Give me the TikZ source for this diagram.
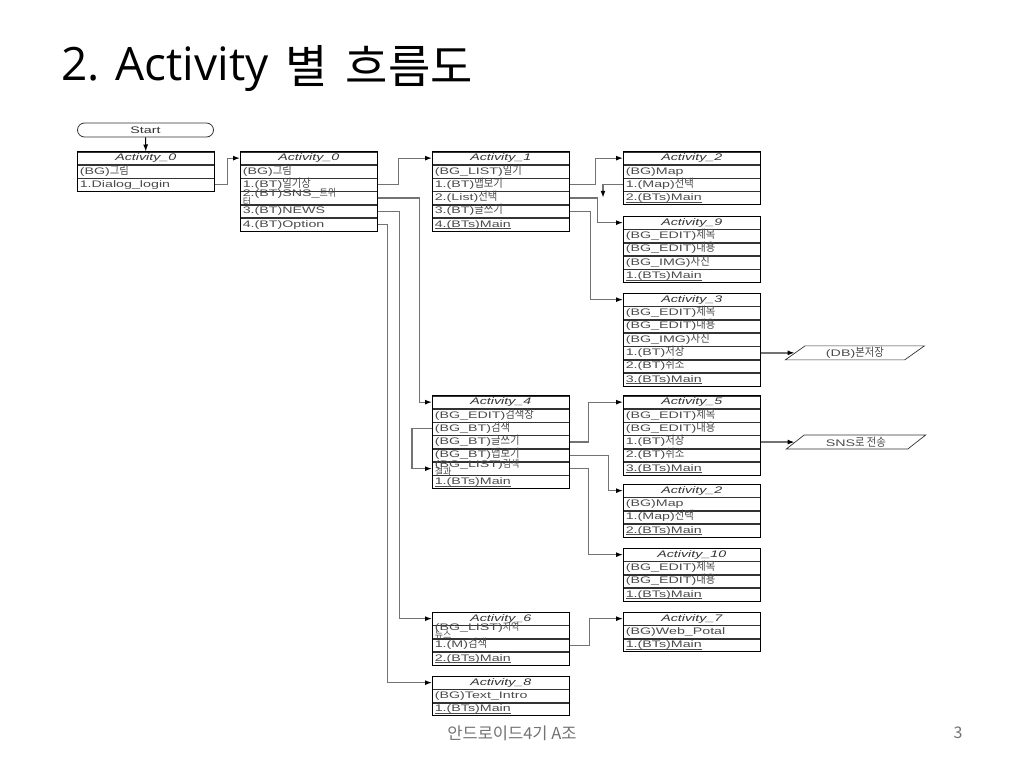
\documentclass[tikz,border=0pt]{standalone}
\usepackage{fontspec}
\usetikzlibrary{arrows.meta,shapes.geometric}
\newfontfamily\lafont[FakeStretch=1.5]{Liberation Sans}
\newfontfamily\kofont[FakeStretch=0.9]{Noto Sans CJK KR}
\newfontfamily\titlefont{Open Sans}
\newfontfamily\tkofont{Noto Sans CJK KR}
\newcommand\rowfont{\lafont\fontsize{9.5}{11}\selectfont}
\newcommand\kor[1]{{\kofont\fontsize{11.5}{12}\selectfont #1}}
\newcommand\korsm[1]{{\kofont\fontsize{10}{11}\selectfont #1}}
\newcommand\mainu[1]{\underline{\smash{#1}}}
\newcommand\twoline[2]{\raisebox{4pt}[0pt][0pt]{\begin{tabular}[t]{@{}l@{}}#1\\[-3pt]#2\end{tabular}}}
\tikzset{
  cell/.style={draw=black!80, line width=0.6pt, anchor=north west, inner ysep=0pt, inner xsep=2.5pt,
    text width=132pt, minimum height=12.7pt, text height=6.8pt, text depth=1.6pt, align=left,
    font=\rowfont, text=black!70},
  hdr/.style={cell, align=center, font=\rowfont\itshape, text=black!80},
  frame/.style={draw=black, line width=0.9pt},
  conn/.style={draw=black!55, line width=1.3pt, -{Latex[length=7pt,width=5pt,color=black]}},
  para/.style={draw=black!80, line width=0.7pt, trapezium, trapezium left angle=45,
    trapezium right angle=135, trapezium stretches=true, minimum width=140pt,
    minimum height=14pt, inner sep=0pt, font=\rowfont, text=black!70, anchor=west},
}
\newcommand\actbox[5]{%
  \node[hdr] (#1-0) at #2 {#3};
  \foreach \rowtext [count=\i, remember=\i as \j (initially 0)] in {#5}{
    \node[cell] (#1-\i) at (#1-\j.south west) {\rowtext};
  }
  \draw[frame] (#1-0.north west) rectangle (#1-#4.south east);
}
\begin{document}
\begin{tikzpicture}[x=1pt,y=-1pt]
\fill[white] (0,0) rectangle (1024,768);
\useasboundingbox (0,0) rectangle (1024,768);

% title and footer
\node[anchor=base west, inner sep=0pt, font=\titlefont\fontsize{46}{50}\selectfont] (title) at (61,80)
  {2. Activity\hspace{17pt}{\tkofont\raisebox{-3pt}{별}\hspace{18pt}\raisebox{-3pt}{흐름도}}};
\node[font=\tkofont\fontsize{16.5}{18}\selectfont, text=black!55] (foot) at (512,733) {안드로이드4기 A조};
\node[font=\tkofont\fontsize{16}{18}\selectfont, text=black!55] (pg) at (958,733) {3};

% start
\node[draw=black!80, line width=0.8pt, rounded corners=7pt, minimum width=136pt, minimum height=14pt,
  inner sep=0pt, font=\rowfont, text=black!80] (start) at (145.5,130) {Start};

% boxes
\actbox{A0a}{(77,151.5)}{Activity\_0}{2}{{(BG)\kor{그림}},{1.Dialog\_login}}
\actbox{A0b}{(240,151.5)}{Activity\_0}{5}{{(BG)\kor{그림}},{1.(BT)\kor{일기장}},{\twoline{2.(BT)SNS\_\korsm{트위}}{\korsm{터}}},{3.(BT)NEWS},{4.(BT)Option}}
\actbox{A1}{(432,151.5)}{Activity\_1}{5}{{(BG\_LIST)\kor{일기}},{1.(BT)\kor{맵보기}},{2.(List)\kor{선택}},{3.(BT)\kor{글쓰기}},{\mainu{4.(BTs)Main}}}
\actbox{A2}{(623,151.5)}{Activity\_2}{3}{{(BG)Map},{1.(Map)\kor{선택}},{\mainu{2.(BTs)Main}}}
\actbox{A9}{(623,216)}{Activity\_9}{4}{{(BG\_EDIT)\kor{제목}},{(BG\_EDIT)\kor{내용}},{(BG\_IMG)\kor{사진}},{\mainu{1.(BTs)Main}}}
\actbox{A3}{(623,293)}{Activity\_3}{6}{{(BG\_EDIT)\kor{제목}},{(BG\_EDIT)\kor{내용}},{(BG\_IMG)\kor{사진}},{1.(BT)\kor{저장}},{2.(BT)\kor{취소}},{\mainu{3.(BTs)Main}}}
\actbox{A4}{(432,395.5)}{Activity\_4}{6}{{(BG\_EDIT)\kor{검색창}},{(BG\_BT)\kor{검색}},{(BG\_BT)\kor{글쓰기}},{(BG\_BT)\kor{맵보기}},{\twoline{(BG\_LIST)\korsm{검색}}{\korsm{결과}}},{\mainu{1.(BTs)Main}}}
\actbox{A5}{(623,395.5)}{Activity\_5}{5}{{(BG\_EDIT)\kor{제목}},{(BG\_EDIT)\kor{내용}},{1.(BT)\kor{저장}},{2.(BT)\kor{취소}},{\mainu{3.(BTs)Main}}}
\actbox{A2b}{(623,484)}{Activity\_2}{3}{{(BG)Map},{1.(Map)\kor{선택}},{\mainu{2.(BTs)Main}}}
\actbox{A10}{(623,548)}{Activity\_10}{3}{{(BG\_EDIT)\kor{제목}},{(BG\_EDIT)\kor{내용}},{\mainu{1.(BTs)Main}}}
\actbox{A6}{(432,612)}{Activity\_6}{3}{{\twoline{(BG\_LIST)\korsm{지역}}{\korsm{뉴스}}},{1.(M)\kor{검색}},{\mainu{2.(BTs)Main}}}
\actbox{A7}{(623,612)}{Activity\_7}{2}{{(BG)Web\_Potal},{\mainu{1.(BTs)Main}}}
\actbox{A8}{(432,676)}{Activity\_8}{2}{{(BG)Text\_Intro},{\mainu{1.(BTs)Main}}}

% output shapes
\node[para] (db) at ([xshift=34pt]A3-4.east) {(DB)\kor{본저장}};
\node[para] (sns) at ([xshift=34pt]A5-3.east) {SNS\kor{로 전송}};

% connectors
\draw[black, line width=1pt, -{Latex[length=7pt,width=5pt]}] (start.south) -- (A0a-0.north);
\draw[conn] (A0a-2.east) -- ++(13,0) |- (A0b-0.west);
\draw[conn] (A0b-2.east) -- ++(21,0) |- (A1-0.west);
\draw[conn] (A0b-3.east) -- ++(42,0) |- (A4-0.west);
\draw[conn] (A0b-4.east) -- ++(22,0) |- (A6-0.west);
\draw[conn] (A0b-5.east) -- ++(10,0) |- (A8-0.west);
\draw[conn] (A1-2.east) -- ++(26,0) |- (A2-0.west);
\draw[conn] (A1-3.east) -- ++(28,0) |- (A9-0.west);
\draw[conn] (A1-4.east) -- ++(21,0) |- (A3-0.west);
\coordinate (mapdown) at ([xshift=-20pt,yshift=-13pt]A2-2.west);
\draw[conn] (A2-2.west) -| (mapdown);
\draw[conn] (A3-4.east) -- (db.west);
\draw[conn] (A4-2.west) -- ++(-20,0) |- (A4-5.west);
\draw[conn] (A4-3.east) -- ++(19,0) |- (A5-0.west);
\draw[conn] (A4-4.east) -- ++(39,0) |- (A2b-0.west);
\draw[conn] (A4-5.east) -- ++(19,0) |- (A10-0.west);
\draw[conn] (A5-3.east) -- (sns.west);
\draw[conn] (A6-2.east) -- ++(20,0) |- (A7-0.west);
\end{tikzpicture}
\end{document}
